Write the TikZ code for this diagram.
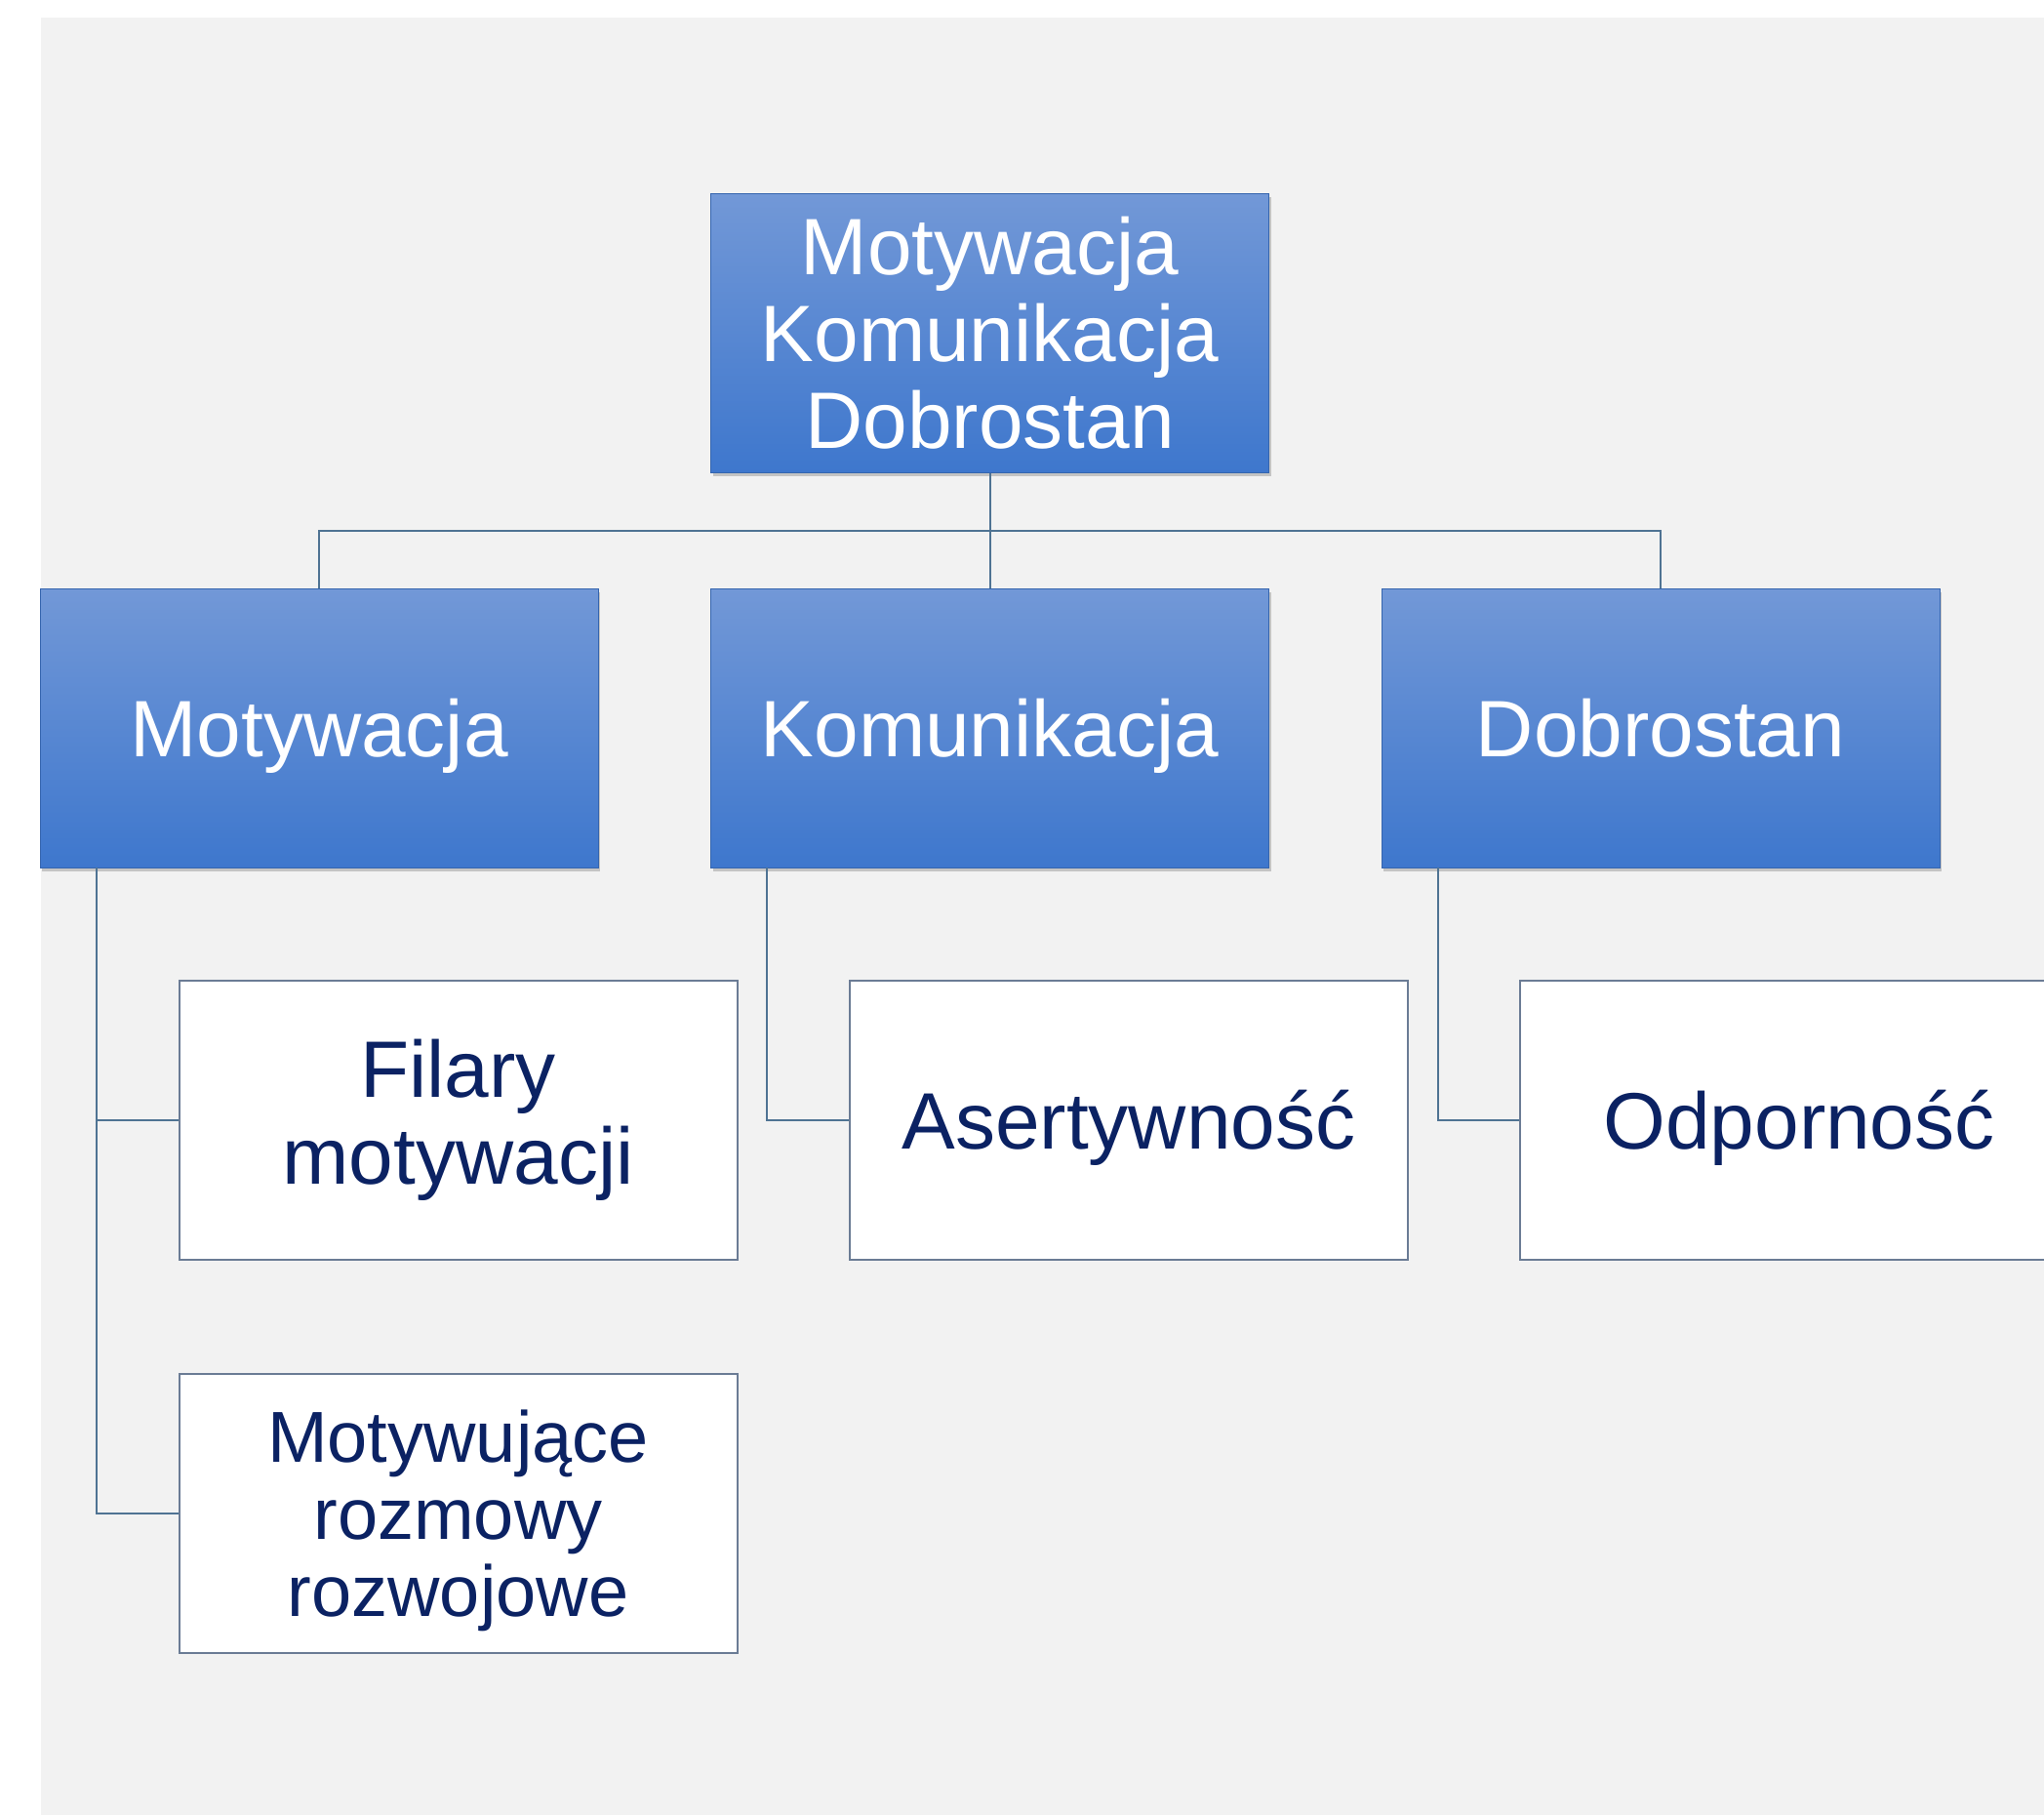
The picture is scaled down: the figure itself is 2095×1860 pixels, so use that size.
\documentclass[tikz,border=0pt]{standalone}
\usepackage{fontspec}
\setmainfont{Liberation Sans}
\usetikzlibrary{shadows}
\definecolor{bggray}{HTML}{F2F2F2}
\definecolor{bluetop}{HTML}{7298D7}
\definecolor{bluebot}{HTML}{3E77CD}
\definecolor{navy}{HTML}{0B2263}
\definecolor{wirecol}{HTML}{4F7393}
\definecolor{edgecol}{HTML}{6B7C95}
\tikzset{
  headbox/.style={
    rectangle, minimum width=286pt, minimum height=143pt,
    top color=bluetop, bottom color=bluebot,
    draw=bluebot!85!black, line width=0.3pt,
    drop shadow={opacity=0.4, shadow xshift=1pt, shadow yshift=-1.8pt},
    text=white, align=center, inner sep=0pt,
    font=\fontsize{41}{44.5}\selectfont
  },
  leafbox/.style={
    rectangle, minimum width=286pt, minimum height=143pt,
    fill=white, draw=edgecol, line width=1pt,
    text=navy, align=center, inner sep=0pt,
    font=\fontsize{41}{44.5}\selectfont
  },
  oneline/.style={text height=29.4pt, text depth=0pt},
  wire/.style={draw=wirecol, line width=1pt}
}

\begin{document}
\begin{tikzpicture}[x=0.5pt, y=-0.5pt]
  \clip (0,0) rectangle (2095,1860);
  \fill[bggray] (42,18) rectangle (2095,1860);

  \node[headbox] (top) at (1014.5,341.5) {Motywacja\\Komunikacja\\Dobrostan};

  \node[headbox, oneline] (mot) at (327,746) {Motywacja};
  \node[headbox, oneline] (kom) at (1014.5,746) {Komunikacja};
  \node[headbox, oneline] (dob) at (1702,746) {Dobrostan};

  \node[leafbox] (fil) at (469.5,1148) {Filary\\motywacji};
  \node[leafbox, oneline] (ase) at (1157,1148) {Asertywność};
  \node[leafbox, oneline] (odp) at (1844,1148) {Odporność};
  \node[leafbox, font=\fontsize{37}{39.5}\selectfont] (roz) at (469.5,1550.5)
    {\rule{0pt}{35pt}Motywujące\\rozmowy\\rozwojowe};

  % top level to the three branches
  \draw[wire] (top.south) -- (kom.north);
  \draw[wire] (mot.north) -- ++(0,-59) -| (dob.north);

  % branches to their items
  \foreach \p/\c in {mot/fil, mot/roz, kom/ase, dob/odp}
    \draw[wire] ([xshift=29pt]\p.south west) |- (\c.west);
\end{tikzpicture}
\end{document}
